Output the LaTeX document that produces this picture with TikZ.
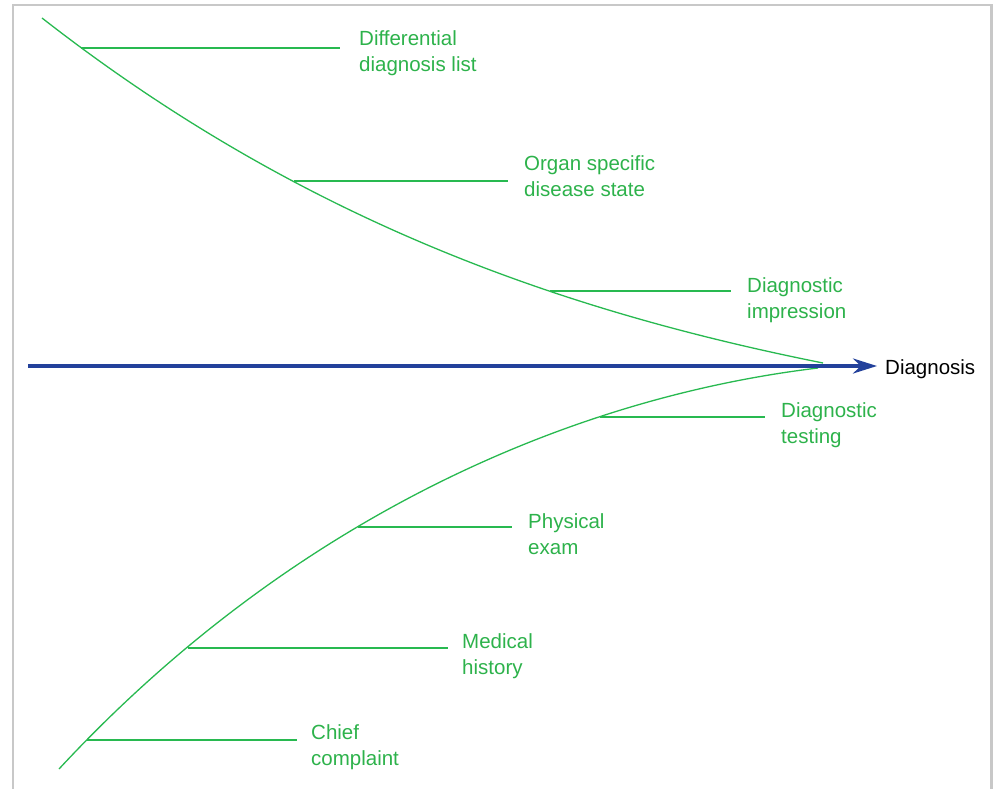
\documentclass[tikz,border=0pt]{standalone}
\usepackage{fontspec}
\setmainfont{Liberation Sans}
\usetikzlibrary{arrows.meta}
\definecolor{fishgreen}{RGB}{40,185,80}
\definecolor{labgreen}{RGB}{45,178,75}
\definecolor{axisblue}{RGB}{35,65,155}
\definecolor{framegray}{RGB}{200,200,200}
\tikzset{
  curve/.style={draw=fishgreen, line width=1.3pt},
  bone/.style={draw=fishgreen, line width=1.3pt},
  lab/.style={text=labgreen, anchor=base west, inner sep=0pt, align=left,
    font=\fontsize{20.5}{26}\selectfont},
}
\begin{document}
\begin{tikzpicture}[x=1pt,y=-1pt]
\useasboundingbox (0,0) rectangle (993,789);
% frame
\draw[framegray, line width=2.5pt] (13,789) -- (13,5) -- (991.5,5) -- (991.5,789);
% junctions
\coordinate (t0) at (42,18);
\coordinate (j1) at (81,48);
\coordinate (j2) at (294,181);
\coordinate (j3) at (550,291);
\coordinate (tE) at (823,363);
\coordinate (b0) at (59,769);
\coordinate (j7) at (87,740);
\coordinate (j6) at (188,648);
\coordinate (j5) at (358,527);
\coordinate (j4) at (600,417);
\coordinate (bE) at (818,368);
% curves
\draw[curve] (t0) .. controls (302,221) and (563,311) .. (tE);
\draw[curve] (b0) .. controls (290,520) and (568,398) .. (bE);
% axis
\coordinate (a0) at (28,366);
\coordinate (aE) at (877,366);
\node[anchor=base west, inner sep=0pt, font=\fontsize{20.5}{26}\selectfont] (dx) at (885,374) {Diagnosis};
\draw[axisblue, line width=3.5pt, -{Stealth[length=24pt,width=15pt]}] (a0) -- (aE);
% branch ends
\coordinate (e1) at (340,48);
\coordinate (e2) at (508,181);
\coordinate (e3) at (731,291);
\coordinate (e4) at (765,417);
\coordinate (e5) at (512,527);
\coordinate (e6) at (448,648);
\coordinate (e7) at (297,740);
\draw[bone] (j1) -- (e1);
\draw[bone] (j2) -- (e2);
\draw[bone] (j3) -- (e3);
\draw[bone] (j4) -- (e4);
\draw[bone] (j5) -- (e5);
\draw[bone] (j6) -- (e6);
\draw[bone] (j7) -- (e7);
% labels (anchor = baseline of last line)
\node[lab] (l1) at (359,72) {Differential\\diagnosis list};
\node[lab] (l2) at (524,196) {Organ specific\\disease state};
\node[lab] (l3) at (747,318) {Diagnostic\\impression};
\node[lab] (l4) at (781,443) {Diagnostic\\testing};
\node[lab] (l5) at (528,554) {Physical\\exam};
\node[lab] (l6) at (462,674) {Medical\\history};
\node[lab] (l7) at (311,765) {Chief\\complaint};
\end{tikzpicture}
\end{document}
